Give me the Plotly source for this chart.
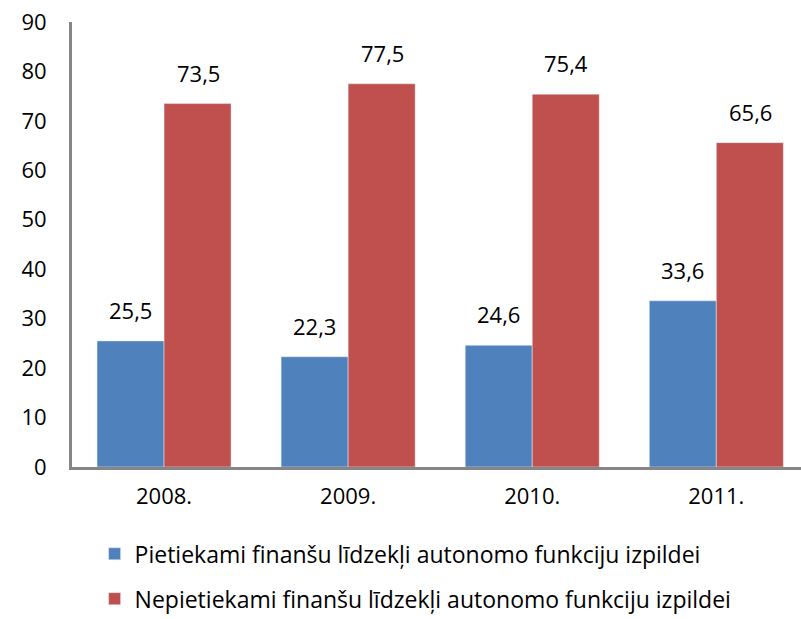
import plotly.graph_objects as go

years = ["2008.", "2009.", "2010.", "2011."]
pietiekami = [25.5, 22.3, 24.6, 33.6]
nepietiekami = [73.5, 77.5, 75.4, 65.6]

COLOUR = {"blue": "#4f81bd", "red": "#c0504d", "axis": "#868686", "text": "#000000"}
FONT = "Open Sans, Liberation Sans, sans-serif"

series = [
    ("Pietiekami finanšu līdzekļi autonomo funkciju izpildei", pietiekami, COLOUR["blue"], -34, "p"),
    ("Nepietiekami finanšu līdzekļi autonomo funkciju izpildei", nepietiekami, COLOUR["red"], 34, "n"),
]

fig = go.Figure()
for name, vals, col, shift, grp in series:
    fig.add_trace(go.Bar(x=years, y=vals, name=name, marker_color=col, legendgroup=grp))
    # value labels, lifted a bit above the bar tops
    for i, v in enumerate(vals):
        fig.add_annotation(
            x=i, y=v, xref="x", yref="y",
            text=f"{v:.1f}".replace(".", ","),
            showarrow=False, xanchor="center", yanchor="bottom",
            xshift=shift, yshift=14,
            font=dict(size=22, color=COLOUR["text"]),
        )

fig.update_layout(
    width=801, height=619,
    paper_bgcolor="white", plot_bgcolor="white",
    font=dict(family=FONT, size=22, color=COLOUR["text"]),
    margin=dict(l=72, r=0, t=22, b=152),
    barmode="group", bargap=0.272, bargroupgap=0,
    showlegend=True,
    legend=dict(orientation="v", x=0.031, y=0.14, yref="container",
                xanchor="left", yanchor="top",
                font=dict(size=23), tracegroupgap=12, itemwidth=30),
    xaxis=dict(type="category", showline=True, linecolor=COLOUR["axis"], linewidth=3,
               ticks="", range=[-0.5, 3.46], automargin=False, ticklabelstandoff=8),
    yaxis=dict(range=[0, 90], dtick=10, showgrid=False, zeroline=False,
               showline=True, linecolor=COLOUR["axis"], linewidth=3,
               ticks="", ticklabelstandoff=18, automargin=False),
)

fig.write_html("out.html", config={"displayModeBar": False},
               post_script="document.body.style.margin='0';")
